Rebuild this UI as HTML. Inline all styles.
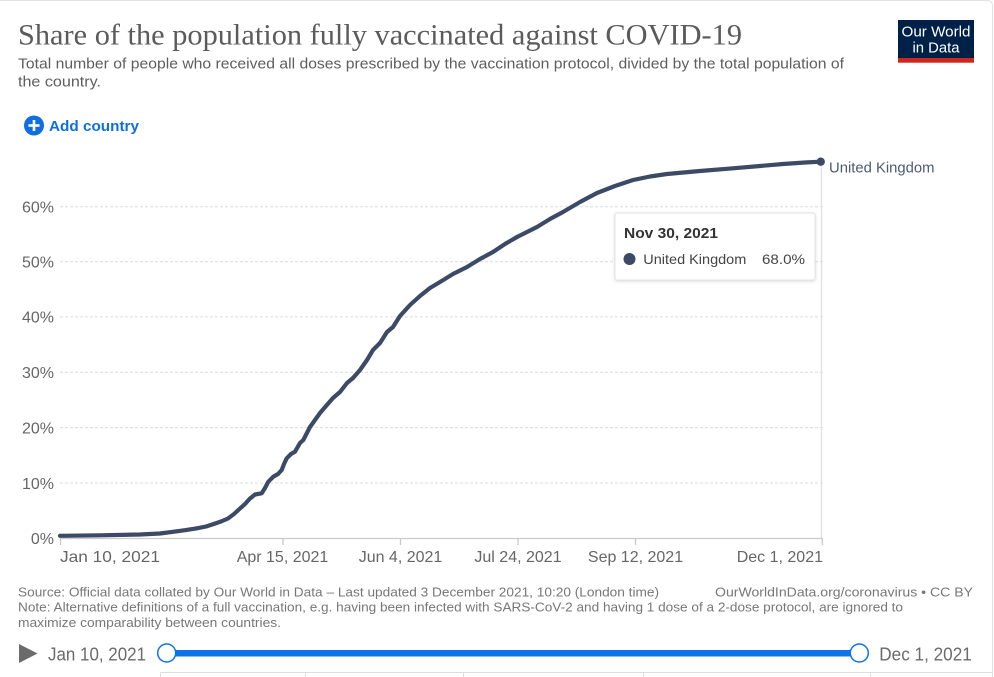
<!DOCTYPE html>
<html><head><meta charset="utf-8"><style>
html,body{margin:0;padding:0;background:#fff;}
svg{display:block;}
text{font-family:"Liberation Sans",sans-serif;}
</style></head><body>
<svg width="994" height="677" viewBox="0 0 994 677" xmlns="http://www.w3.org/2000/svg">
<rect width="994" height="677" fill="#fff"/>
<path d="M0,0.5 H987 Q992.5,0.5 992.5,6 V677" fill="none" stroke="#e2e2e2" stroke-width="1"/>

<!-- title -->
<text x="18" y="44.5" style="font-family:'Liberation Serif',serif" font-size="29.5" fill="#5b5b5b" textLength="724" lengthAdjust="spacingAndGlyphs">Share of the population fully vaccinated against COVID-19</text>
<text x="18" y="68.3" font-size="14.5" fill="#5e5e5e" textLength="826" lengthAdjust="spacingAndGlyphs">Total number of people who received all doses prescribed by the vaccination protocol, divided by the total population of</text>
<text x="18" y="86.3" font-size="14.5" fill="#5e5e5e" textLength="83" lengthAdjust="spacingAndGlyphs">the country.</text>

<!-- logo -->
<rect x="898" y="20" width="76" height="38" fill="#002147"/>
<rect x="898" y="58" width="76" height="4.7" fill="#ce261e"/>
<text x="936" y="36.5" font-size="14.5" fill="#fff" text-anchor="middle" textLength="69" lengthAdjust="spacingAndGlyphs">Our World</text>
<text x="936" y="52.3" font-size="14.5" fill="#fff" text-anchor="middle" textLength="47" lengthAdjust="spacingAndGlyphs">in Data</text>

<!-- add country -->
<circle cx="34" cy="125.5" r="10" fill="#0f6fe0"/>
<rect x="28.5" y="124.2" width="11" height="2.6" fill="#fff"/>
<rect x="32.7" y="120" width="2.6" height="11" fill="#fff"/>
<text x="49" y="131" font-size="15" font-weight="bold" fill="#0f6fe0" textLength="90" lengthAdjust="spacingAndGlyphs">Add country</text>

<!-- gridlines -->
<g stroke="#dcdcdc" stroke-width="1" stroke-dasharray="3,2">
<line x1="60" y1="206.7" x2="823" y2="206.7"/>
<line x1="60" y1="261.7" x2="823" y2="261.7"/>
<line x1="60" y1="316.9" x2="823" y2="316.9"/>
<line x1="60" y1="372.2" x2="823" y2="372.2"/>
<line x1="60" y1="427.6" x2="823" y2="427.6"/>
<line x1="60" y1="483" x2="823" y2="483"/>
</g>
<g font-size="16" fill="#666" text-anchor="end">
<text x="54" y="212.5">60%</text>
<text x="54" y="267.5">50%</text>
<text x="54" y="322.7">40%</text>
<text x="54" y="378">30%</text>
<text x="54" y="433.4">20%</text>
<text x="54" y="488.8">10%</text>
<text x="54" y="544.2">0%</text>
</g>

<!-- hover line -->
<line x1="821.5" y1="163" x2="821.5" y2="538" stroke="#e0e0e0" stroke-width="1.3"/>

<!-- x axis -->
<line x1="60" y1="538.5" x2="823" y2="538.5" stroke="#cccccc" stroke-width="1.3"/>
<g stroke="#c8c8c8" stroke-width="1.3">
<line x1="60.5" y1="538" x2="60.5" y2="545"/>
<line x1="283" y1="538" x2="283" y2="545"/>
<line x1="400.5" y1="538" x2="400.5" y2="545"/>
<line x1="518" y1="538" x2="518" y2="545"/>
<line x1="635.5" y1="538" x2="635.5" y2="545"/>
<line x1="822.3" y1="538" x2="822.3" y2="545"/>
</g>
<g font-size="16" fill="#666">
<text x="60" y="562" textLength="100" lengthAdjust="spacingAndGlyphs">Jan 10, 2021</text>
<text x="282.5" y="562" text-anchor="middle">Apr 15, 2021</text>
<text x="400.5" y="562" text-anchor="middle">Jun 4, 2021</text>
<text x="518" y="562" text-anchor="middle">Jul 24, 2021</text>
<text x="635.5" y="562" text-anchor="middle">Sep 12, 2021</text>
<text x="823" y="562" text-anchor="end">Dec 1, 2021</text>
</g>

<!-- series -->
<polyline fill="none" stroke="#3c4a66" stroke-width="4.2" stroke-linejoin="round" stroke-linecap="round"
points="60,535.8 100,535.3 140,534.5 160,533.5 173,531.8 185,530.2 197,528.3 206,526.5 213,524.2 221,521.5 228,518.5 234,514 240,508.5 245,504 250,498.5 255,494.5 261.7,493.3 265,488 268.3,481.7 273.3,476.7 278,474 281.7,470 284,464 286.7,458.3 291,454 295,451.7 300,443 303.3,440 310,427 320,413 326,406 333,398 340,392 347,383 353,378 360,370 367,360 373,350 380,343 387,332 393,327 400,316 410,305 420,296 430,288 440,282 453,274 467,267 480,259 493,252 505,244 517,237 527,232 537,227 550,219 563,212 580,202 597,193 615,186 633,180 650,176.5 667,174 700,171 733,168.3 760,166 783,164 805,162.5 820.7,161.7"/>
<circle cx="820.7" cy="161.7" r="4.2" fill="#3c4a66"/>
<text x="829" y="172.7" font-size="14.5" fill="#4c5a73" textLength="105.5" lengthAdjust="spacingAndGlyphs">United Kingdom</text>

<!-- tooltip -->
<defs>
<filter id="sh" x="-10%" y="-20%" width="120%" height="150%">
<feDropShadow dx="0" dy="1" stdDeviation="1.5" flood-color="#000" flood-opacity="0.15"/>
</filter>
</defs>
<rect x="615" y="213" width="200" height="67" rx="2" fill="#fff" stroke="#e3e3e3" stroke-width="1" filter="url(#sh)"/>
<text x="624" y="238" font-size="15" font-weight="bold" fill="#333" textLength="94" lengthAdjust="spacingAndGlyphs">Nov 30, 2021</text>
<circle cx="629.5" cy="259" r="6" fill="#3c4a66"/>
<text x="643.3" y="264" font-size="14" fill="#444" textLength="103" lengthAdjust="spacingAndGlyphs">United Kingdom</text>
<text x="805" y="264" font-size="14" fill="#444" text-anchor="end" textLength="43" lengthAdjust="spacingAndGlyphs">68.0%</text>

<!-- footer -->
<g font-size="13" fill="#777">
<text x="18" y="596.7" textLength="641" lengthAdjust="spacingAndGlyphs">Source: Official data collated by Our World in Data – Last updated 3 December 2021, 10:20 (London time)</text>
<text x="715" y="596.7" textLength="258" lengthAdjust="spacingAndGlyphs">OurWorldInData.org/coronavirus • CC BY</text>
<text x="18" y="611.5" textLength="885" lengthAdjust="spacingAndGlyphs">Note: Alternative definitions of a full vaccination, e.g. having been infected with SARS-CoV-2 and having 1 dose of a 2-dose protocol, are ignored to</text>
<text x="18" y="627" textLength="263" lengthAdjust="spacingAndGlyphs">maximize comparability between countries.</text>
</g>

<!-- timeline -->
<polygon points="19,644 37.5,653.5 19,663" fill="#6b6b6b"/>
<text x="48" y="660.5" font-size="18" fill="#6b6b6b" textLength="98" lengthAdjust="spacingAndGlyphs">Jan 10, 2021</text>
<rect x="166" y="650" width="694" height="6.5" fill="#0f73e6"/>
<circle cx="166.7" cy="653" r="9" fill="#fff" stroke="#0f73e6" stroke-width="1.5"/>
<circle cx="859.3" cy="653" r="9" fill="#fff" stroke="#0f73e6" stroke-width="1.5"/>
<text x="879.3" y="660.5" font-size="18" fill="#6b6b6b" textLength="92.5" lengthAdjust="spacingAndGlyphs">Dec 1, 2021</text>

<!-- bottom tabs -->
<g stroke="#dddddd" stroke-width="1">
<line x1="160.5" y1="672.5" x2="993" y2="672.5"/>
<line x1="160.5" y1="672.5" x2="160.5" y2="677"/>
<line x1="305.5" y1="672.5" x2="305.5" y2="677"/>
<line x1="463.5" y1="672.5" x2="463.5" y2="677"/>
<line x1="643.5" y1="672.5" x2="643.5" y2="677"/>
<line x1="870.5" y1="672.5" x2="870.5" y2="677"/>
</g>
</svg>
</body></html>
